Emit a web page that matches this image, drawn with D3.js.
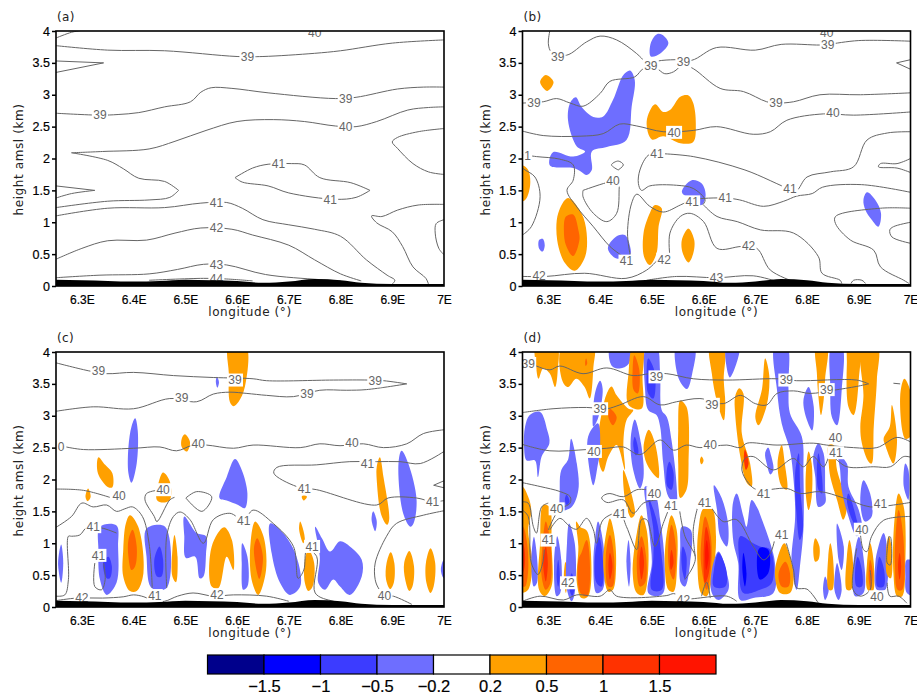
<!DOCTYPE html>
<html>
<head>
<meta charset="utf-8">
<title>Cross sections</title>
<script src="https://d3js.org/d3.v7.min.js"></script>
<style>
  html, body { margin: 0; background: #fff; }
  svg { display: block; }
  .axis text { font-family: "Liberation Sans", sans-serif; fill: #000; stroke: #000; stroke-width: 0.2px; }
  .title { font-family: "DejaVu Sans", sans-serif; font-size: 12px; fill: #222; letter-spacing: 0.6px; }
  .clabel { font-family: "Liberation Sans", sans-serif; font-size: 12px; fill: #666; }
</style>
</head>
<body>
<svg id="chart" width="917" height="694"></svg>
<script>
// axis ticks
const lonTicks = [6.3, 6.4, 6.5, 6.6, 6.7, 6.8, 6.9, 7];
const heightTicks = [0, 0.5, 1, 1.5, 2, 2.5, 3, 3.5, 4];

// shading levels of the vertical wind (colour bar)
const levels = [-1.5, -1, -0.5, -0.2, 0.2, 0.5, 1, 1.5];
const levelLabels = ["\u22121.5", "\u22121", "\u22120.5", "\u22120.2", "0.2", "0.5", "1", "1.5"];
const levelColors = ["#00008c", "#0000ff", "#3c3cff", "#6e6eff", "#ffffff", "#ffa000", "#ff6400", "#ff3200", "#ff1400"];

// ground height along the section [lon, km]
const terrain = [[6.25,.10],[6.3,.09],[6.35,.08],[6.4,.07],[6.45,.08],[6.5,.1],[6.55,.09],[6.6,.08],[6.65,.05],[6.7,.07],[6.75,.11],[6.8,.09],[6.84,.05],[6.9,.03],[7,.03]];

// panel (a): contours [lon, km] and labels [lon, km, text]
const linesA = [
  [[6.25,3.89],[6.28,3.98],[6.30,4.01]],
  [[6.25,3.77],[6.35,3.70],[6.46,3.69],[6.6,3.60],[6.65,3.60],[6.75,3.65],[6.8,3.69],[6.9,3.81],[7,3.86]],
  [[6.25,3.53],[6.342,3.50]], [[6.342,3.50],[6.25,3.35]],
  [[6.25,2.71],[6.335,2.68],[6.37,2.69],[6.41,2.72],[6.46,2.81],[6.51,2.89],[6.53,3.04],[6.55,3.11],[6.59,3.10],[6.66,3.03],[6.79,2.94],[6.83,2.96],[6.91,3.09],[6.96,3.12],[7,3.12]],
  [[7,2.81],[6.97,2.80],[6.93,2.76],[6.87,2.58],[6.83,2.50],[6.79,2.51],[6.73,2.58],[6.67,2.61],[6.6,2.58],[6.54,2.44],[6.48,2.27],[6.43,2.15],[6.34,2.11],[6.28,2.09]],
  [[6.28,2.09],[6.35,1.97],[6.38,1.84],[6.41,1.69],[6.46,1.64],[6.487,1.50]],
  [[6.487,1.50],[6.47,1.39],[6.43,1.35],[6.35,1.33],[6.25,1.23]],
  [[6.25,1.57],[6.325,1.50]], [[6.325,1.50],[6.28,1.45],[6.25,1.38]],
  [[6.25,1.10],[6.35,1.22],[6.46,1.23],[6.53,1.30],[6.58,1.31],[6.61,1.22],[6.65,1.04],[6.70,0.96],[6.75,0.89],[6.80,0.78],[6.85,0.41],[6.89,0.17],[6.905,0.09],[6.90,0.03]],
  [[6.596,1.70],[6.63,1.85],[6.66,1.91],[6.705,1.92],[6.73,1.90],[6.76,1.70],[6.82,1.62],[6.857,1.50]],
  [[6.857,1.50],[6.83,1.39],[6.79,1.36],[6.70,1.46],[6.66,1.57],[6.61,1.63],[6.596,1.70]],
  [[7,2.47],[6.95,2.42],[6.91,2.33],[6.90,2.26],[6.91,2.16],[6.94,1.92],[6.97,1.79],[7,1.75]],
  [[7,1.28],[6.95,1.27],[6.91,1.19],[6.88,1.09],[6.86,1.10],[6.87,0.99],[6.90,0.85],[6.92,0.62],[6.94,0.30],[6.965,0.12],[6.97,0.03]],
  [[7,1.04],[6.985,.98],[6.983,.83],[6.99,.59],[7,.49]],
  [[6.25,.42],[6.30,.59],[6.35,.71],[6.425,.72],[6.48,.83],[6.53,.91],[6.59,.89],[6.63,.80],[6.70,.64],[6.75,.41],[6.80,.19],[6.84,.08]],
  [[6.25,.13],[6.335,.17],[6.43,.19],[6.485,.26],[6.535,.34],[6.58,.33],[6.655,.18],[6.76,.10],[6.80,.08]],
  [[6.43,.09],[6.535,.12],[6.58,.11],[6.63,.08]]
];
const labelsA = [[6.75,3.98,"40"],[6.62,3.59,"39"],[6.335,2.68,"39"],[6.81,2.94,"39"],[6.81,2.50,"40"],[6.68,1.92,"41"],[6.78,1.36,"41"],[6.56,1.30,"41"],[6.56,.91,"42"],[6.56,.34,"43"],[6.56,.12,"44"]];

// panel (b)
const fillsB = [
  [-0.35,[[6.498,3.6],[6.498,3.81],[6.51,3.95],[6.52,3.94],[6.532,3.81],[6.517,3.65]]],
  [0.35,[[6.284,3.2],[6.295,3.31],[6.31,3.2],[6.298,3.06]]],
  [-0.35,[[6.338,2.60],[6.342,2.87],[6.353,2.96],[6.364,2.81],[6.387,2.65],[6.406,2.66],[6.425,2.92],[6.445,3.31],[6.458,3.38],[6.467,3.23],[6.461,2.81],[6.451,2.29],[6.413,2.18],[6.384,2.11],[6.384,1.82],[6.374,1.74],[6.364,1.79],[6.348,1.85],[6.303,1.89],[6.309,2.10],[6.348,2.03],[6.371,2.11],[6.355,2.19]]],
  [0.35,[[6.25,1.89],[6.261,1.82],[6.265,1.61],[6.258,1.38],[6.25,1.33],[6.24,1.6]]],
  [-0.35,[[6.282,.72],[6.289,.74],[6.293,.64],[6.289,.54],[6.282,.59]]],
  [0.35,[[6.338,1.38],[6.364,1.14],[6.374,.83],[6.371,.46],[6.351,.24],[6.332,.36],[6.317,.72],[6.319,1.14]]],
  [0.75,[[6.348,1.12],[6.358,.88],[6.36,.72],[6.348,.47],[6.334,.64],[6.33,.88],[6.334,1.09]]],
  [0.35,[[6.49,2.58],[6.506,2.85],[6.522,2.73],[6.535,2.76],[6.555,2.97],[6.571,2.99],[6.58,2.87],[6.585,2.55],[6.58,2.26],[6.555,2.24],[6.522,2.35],[6.50,2.30]]],
  [-0.35,[[6.558,1.48],[6.577,1.66],[6.596,1.61],[6.604,1.43],[6.596,1.27],[6.567,1.40]]],
  [0.35,[[6.506,1.27],[6.519,1.22],[6.513,.93],[6.509,.51],[6.496,.33],[6.485,.46],[6.484,.83],[6.496,1.14]]],
  [0.35,[[6.571,.90],[6.582,.72],[6.58,.51],[6.571,.37],[6.56,.51],[6.558,.72]]],
  [-0.35,[[6.415,.59],[6.432,.78],[6.448,.80],[6.458,.62],[6.458,.49],[6.432,.43]]],
  [-0.35,[[6.909,1.35],[6.916,1.47],[6.932,1.35],[6.943,1.14],[6.938,.93],[6.925,1.04],[6.913,1.19]]]
];
const linesB = [
  [[6.303,4.01],[6.30,3.8],[6.306,3.67],[6.335,3.62],[6.374,3.83],[6.40,3.92],[6.432,3.86],[6.47,3.65],[6.49,3.49]],
  [[6.50,3.5],[6.512,3.53],[6.545,3.55],[6.577,3.54],[6.625,3.74],[6.70,3.70],[6.75,3.79],[6.825,3.78],[6.84,3.79],[6.90,3.85],[7,3.84]],
  [[6.25,2.87],[6.29,2.89],[6.316,2.94],[6.342,2.87],[6.367,2.82],[6.40,3.02],[6.419,3.21],[6.467,3.28],[6.484,3.41],[6.509,3.41],[6.525,3.33],[6.542,3.36],[6.561,3.47],[6.58,3.41],[6.632,3.10],[6.677,3.05],[6.722,2.89],[6.742,2.87],[6.774,2.89],[6.825,3.0],[6.903,3.0],[7,3.03]],
  [[7,3.55],[6.973,3.50]], [[6.973,3.50],[7,3.40]],
  [[6.25,2.43],[6.29,2.36],[6.361,2.35],[6.406,2.39],[6.438,2.54],[6.471,2.51],[6.522,2.42],[6.58,2.44],[6.625,2.50],[6.696,2.38],[6.729,2.42],[6.761,2.60],[6.832,2.70],[6.89,2.68],[7,2.73]],
  [[6.25,2.06],[6.277,2.03],[6.322,1.99],[6.348,1.90],[6.348,1.66],[6.336,1.50],[6.355,1.24],[6.387,.93],[6.419,.62],[6.445,.46]],
  [[6.25,.80],[6.267,.93],[6.284,1.40],[6.274,1.71],[6.255,1.82],[6.25,1.85]],
  [[6.51,2.08],[6.493,2.05],[6.477,1.82],[6.474,1.61],[6.48,1.50],[6.496,1.57],[6.548,1.58],[6.58,1.53],[6.603,1.35],[6.598,1.27]],
  [[6.51,2.08],[6.58,2.03],[6.68,1.82],[6.767,1.52],[6.78,1.50],[6.80,1.71],[6.845,1.79],[6.89,1.87],[6.916,2.29],[6.955,2.40],[7,2.42]],
  [[6.458,.49],[6.453,.83],[6.461,1.30],[6.471,1.44],[6.496,1.25],[6.522,1.16],[6.555,1.27],[6.578,1.35],[6.642,1.38],[6.67,1.35],[6.716,1.25],[6.755,1.33],[6.78,1.41],[6.81,1.45],[6.83,1.55],[6.905,1.59],[7,1.47]],
  [[6.535,.46],[6.535,.83],[6.555,1.09],[6.574,1.14],[6.60,1.01],[6.626,.59],[6.674,.62],[6.703,.59],[6.729,.25],[6.774,.07]],
  [[6.25,.15],[6.295,.15],[6.37,.20],[6.45,.12],[6.49,.25],[6.51,.40]],
  [[7,1.22],[6.942,1.22],[6.855,1.09],[6.855,.98],[6.884,.72],[6.929,.56],[6.942,.30],[6.987,.09],[6.997,.04]],
  [[6.60,1.27],[6.626,1.09],[6.665,1.01],[6.71,.88],[6.774,.83],[6.822,.46],[6.829,.20],[6.864,.09],[6.867,.04]],
  [[7,2.0],[6.974,1.92],[6.942,1.92],[6.938,1.87],[6.974,1.85],[7,1.78]],
  [[7,1.0],[6.967,.93],[6.96,.88],[6.964,.77],[7,.67]],
  [[6.885,.04],[6.89,.09],[6.906,.09],[6.913,.04]],
  [[6.367,1.50],[6.412,1.62],[6.438,1.66],[6.437,1.55],[6.432,1.14],[6.413,1.01],[6.387,1.14],[6.367,1.40],[6.367,1.50]],
  [[6.435,1.82],[6.422,1.90],[6.435,1.96],[6.445,1.90],[6.435,1.82]],
  [[6.49,.09],[6.548,.15],[6.625,.13],[6.696,.16],[6.742,.07]]
];
const labelsB = [[6.318,3.59,"39"],[6.498,3.46,"39"],[6.561,3.52,"39"],[6.84,3.79,"39"],[6.272,2.87,"39"],[6.74,2.87,"39"],[6.85,2.72,"40"],[6.543,2.41,"40"],[6.26,2.05,"1"],[6.51,2.08,"41"],[6.767,1.52,"41"],[6.642,1.38,"41"],[6.578,1.32,"41"],[6.425,1.66,"40"],[6.451,.39,"41"],[6.524,.42,"42"],[6.687,.63,"42"],[6.282,.16,"42"],[6.625,.13,"43"],[6.838,3.98,"40"]];

// panel (c)
const fillsC = [
  [0.35,[[6.584,4.1],[6.617,4.1],[6.615,3.45],[6.603,3.22],[6.593,3.15],[6.586,3.22],[6.584,3.67]]],
  [-0.35,[[6.561,3.61],[6.565,3.53],[6.562,3.44],[6.559,3.53]]],
  [-0.35,[[6.403,2.96],[6.408,2.77],[6.406,2.25],[6.396,1.95],[6.39,2.10],[6.39,2.51],[6.396,2.83]]],
  [0.35,[[6.499,2.71],[6.509,2.59],[6.503,2.44],[6.493,2.51],[6.493,2.64]]],
  [0.35,[[6.332,2.35],[6.345,2.23],[6.359,2.10],[6.359,1.88],[6.351,1.88],[6.331,2.10]]],
  [0.35,[[6.312,1.86],[6.317,1.73],[6.311,1.66],[6.307,1.73]]],
  [0.35,[[6.457,2.11],[6.47,1.97],[6.47,1.68],[6.457,1.64],[6.445,1.68],[6.448,1.94]]],
  [-0.35,[[6.596,2.32],[6.609,2.15],[6.62,1.78],[6.615,1.55],[6.602,1.60],[6.58,1.67],[6.566,1.71],[6.58,2.04]]],
  [0.35,[[6.729,1.76],[6.735,1.73],[6.729,1.67],[6.725,1.73]]],
  [0.35,[[6.876,2.35],[6.883,2.04],[6.894,1.37],[6.89,1.29],[6.879,1.44],[6.87,1.99],[6.87,2.20]]],
  [-0.35,[[6.918,2.45],[6.931,2.25],[6.947,1.68],[6.941,1.31],[6.935,1.26],[6.921,1.47],[6.912,2.25]]],
  [-0.35,[[6.863,1.50],[6.87,1.34],[6.867,1.19],[6.86,1.37]]],
  [-0.35,[[6.26,.98],[6.264,.69],[6.26,.38],[6.254,.69]]],
  [-0.35,[[6.335,1.26],[6.367,1.28],[6.37,.95],[6.367,.38],[6.348,.19],[6.335,.43],[6.332,.90]]],
  [-0.75,[[6.351,.79],[6.358,.64],[6.354,.45],[6.348,.45],[6.341,.69]]],
  [0.35,[[6.393,1.44],[6.409,1.26],[6.419,.53],[6.406,.25],[6.393,.25],[6.38,.48],[6.38,.90],[6.385,1.31]]],
  [0.75,[[6.398,1.21],[6.406,.95],[6.403,.64],[6.396,.58],[6.39,.79],[6.39,1.05]]],
  [-0.35,[[6.425,1.23],[6.461,1.26],[6.464,.30],[6.435,.30],[6.425,.79]]],
  [-0.75,[[6.45,.95],[6.457,.74],[6.454,.48],[6.445,.48],[6.44,.74]]],
  [0.35,[[6.479,1.13],[6.485,.79],[6.482,.39],[6.475,.48],[6.475,.90]]],
  [-0.35,[[6.498,1.42],[6.522,1.16],[6.54,1.11],[6.54,.84],[6.535,.48],[6.528,.45],[6.519,.79],[6.501,.77],[6.498,1.11]]],
  [0.35,[[6.575,1.25],[6.59,1.05],[6.593,.58],[6.58,.79],[6.564,.30],[6.551,.32],[6.551,.95]]],
  [-0.35,[[6.61,1.0],[6.62,.79],[6.62,.32],[6.612,.27],[6.609,.69]]],
  [0.35,[[6.635,1.34],[6.651,1.11],[6.656,.58],[6.641,.19],[6.628,.43],[6.626,1.0]]],
  [0.75,[[6.639,1.08],[6.65,.79],[6.643,.44],[6.635,.69],[6.633,.95]]],
  [-0.35,[[6.664,1.31],[6.689,1.16],[6.715,.79],[6.722,.32],[6.702,.19],[6.683,.38],[6.667,.84]]],
  [0.35,[[6.722,1.34],[6.731,1.08],[6.728,1.0],[6.72,1.21]]],
  [0.35,[[6.738,.90],[6.749,.69],[6.746,.32],[6.738,.25],[6.731,.38],[6.731,.74]]],
  [-0.35,[[6.751,1.26],[6.764,1.08],[6.78,.87],[6.799,1.03],[6.818,.95],[6.841,.74],[6.841,.48],[6.818,.19],[6.799,.32],[6.786,.43],[6.77,.27],[6.757,.38],[6.76,.79]]],
  [0.35,[[6.897,.86],[6.904,.69],[6.903,.38],[6.896,.28],[6.888,.43],[6.889,.69]]],
  [0.35,[[6.933,.88],[6.942,.64],[6.939,.32],[6.933,.25],[6.925,.43],[6.923,.69]]],
  [0.35,[[6.974,.92],[6.983,.69],[6.98,.32],[6.974,.22],[6.966,.38],[6.965,.69]]],
  [-0.35,[[7,.74],[6.994,.58],[7,.45],[7.01,.6]]]
];
const linesC = [
  [[6.25,3.83],[6.316,3.70],[6.348,3.66],[6.40,3.68],[6.477,3.63],[6.554,3.60],[6.631,3.58],[6.657,3.55],[6.786,3.56],[6.854,3.56],[6.883,3.55],[6.928,3.50]],
  [[6.928,3.50],[6.85,3.41],[6.812,3.40],[6.76,3.40],[6.709,3.30],[6.657,3.32],[6.619,3.35],[6.586,3.37],[6.554,3.34],[6.522,3.22],[6.47,3.27],[6.40,3.11],[6.322,3.14],[6.25,3.07]],
  [[6.27,2.51],[6.303,2.47],[6.40,2.49],[6.451,2.51],[6.483,2.45],[6.515,2.54],[6.541,2.54],[6.593,2.49],[6.631,2.54],[6.722,2.50],[6.76,2.56],[6.799,2.53],[6.844,2.56],[6.883,2.50],[6.928,2.56],[6.96,2.72],[7,2.78]],
  [[7,2.44],[6.954,2.25],[6.915,2.28],[6.87,2.28],[6.818,2.28],[6.754,2.23],[6.677,2.19],[6.671,2.10],[6.715,1.89],[6.754,1.84],[6.87,1.60],[6.892,1.71],[6.947,1.71],[6.978,1.65],[7,1.67]],
  [[7,1.98],[6.98,1.91]], [[6.98,1.91],[7,1.87]],
  [[6.25,1.85],[6.303,1.83],[6.354,1.72]],
  [[6.25,1.25],[6.28,1.42],[6.3,1.63],[6.322,1.57],[6.348,1.60],[6.367,1.50],[6.383,1.54],[6.398,1.57],[6.417,1.42],[6.43,.99],[6.436,.30]],
  [[6.464,.30],[6.464,1.11],[6.477,1.42],[6.49,1.49],[6.509,1.37],[6.535,1.0],[6.554,1.37],[6.586,1.47],[6.613,1.36],[6.631,1.52],[6.67,1.31],[6.709,.95],[6.718,.45],[6.729,.58],[6.735,.9],[6.754,.79],[6.751,.22],[6.786,.09],[6.81,.06]],
  [[6.325,.69],[6.325,.32],[6.338,.27],[6.345,.43],[6.342,.69]],
  [[6.25,.17],[6.267,.19],[6.274,.43],[6.274,1.11],[6.28,1.11],[6.296,1.13],[6.31,1.25],[6.338,1.24],[6.367,1.16]],
  [[6.25,.10],[6.29,.14],[6.34,.14],[6.38,.16],[6.40,.19],[6.42,.16],[6.44,.09],[6.46,.09],[6.485,.17],[6.515,.22],[6.554,.17],[6.593,.19],[6.657,.17],[6.70,.09]],
  [[7,1.51],[6.96,1.44],[6.908,1.31],[6.889,1.11],[6.867,.69],[6.867,.43],[6.873,.30],[6.885,.18],[6.902,.17],[6.938,.04]],
  [[6.445,1.83],[6.425,1.78],[6.422,1.68],[6.44,1.42],[6.445,1.34],[6.47,1.68],[6.479,1.72]],
  [[6.501,1.71],[6.522,1.81],[6.551,1.73],[6.532,1.50],[6.501,1.71]]
];
const labelsC = [[6.332,3.70,"39"],[6.596,3.56,"39"],[6.867,3.55,"39"],[6.493,3.29,"39"],[6.735,3.35,"39"],[6.26,2.52,"0"],[6.525,2.56,"40"],[6.822,2.57,"40"],[6.372,1.75,"40"],[6.457,1.84,"40"],[6.885,.18,"40"],[6.852,2.25,"41"],[6.73,1.85,"41"],[6.978,1.65,"41"],[6.613,1.36,"41"],[6.322,1.26,"41"],[6.332,.81,"41"],[6.745,.95,"41"],[6.441,.18,"41"],[6.30,.15,"42"],[6.561,.19,"42"]];

// panel (d)
const fillsD = [
  [0.35,[[6.276,4.1],[6.316,4.1],[6.318,3.71],[6.313,3.45],[6.303,3.66],[6.29,3.74],[6.281,3.58],[6.276,3.80]]],
  [0.35,[[6.327,4.1],[6.387,4.1],[6.387,3.76],[6.38,3.27],[6.37,3.45],[6.354,3.58],[6.338,3.45],[6.327,3.55]]],
  [0.75,[[6.373,3.9],[6.375,3.82],[6.372,3.78],[6.371,3.84]]],
  [-0.35,[[6.42,4.1],[6.458,4.1],[6.455,3.81],[6.438,3.74],[6.422,3.79]]],
  [0.35,[[6.464,4.1],[6.482,4.1],[6.482,3.6],[6.48,3.11],[6.455,3.17],[6.455,3.67]]],
  [0.35,[[6.422,3.46],[6.432,3.32],[6.455,3.11],[6.464,3.09],[6.451,2.93],[6.445,2.57],[6.448,2.15],[6.432,2.54],[6.416,2.36],[6.406,2.12],[6.40,2.20],[6.396,2.62],[6.403,3.04],[6.413,3.35]]],
  [0.75,[[6.419,3.11],[6.432,2.98],[6.425,2.85],[6.416,2.98]]],
  [0.75,[[6.466,3.95],[6.476,3.71],[6.473,3.35],[6.465,3.4],[6.463,3.74]]],
  [-0.35,[[6.40,3.55],[6.405,3.42],[6.396,2.96],[6.387,2.83],[6.39,3.35]]],
  [-0.35,[[6.396,2.88],[6.379,2.72],[6.375,2.51],[6.387,1.91],[6.396,2.25],[6.40,2.46]]],
  [-0.35,[[6.284,3.06],[6.298,2.77],[6.302,2.57],[6.287,2.36],[6.28,2.04],[6.274,2.30],[6.258,2.30],[6.253,2.51],[6.255,2.83],[6.264,3.01]]],
  [-0.35,[[6.344,2.64],[6.355,2.25],[6.358,1.84],[6.345,1.57],[6.325,1.52],[6.322,1.84],[6.325,2.15],[6.338,2.31]]],
  [-0.75,[[6.335,1.76],[6.341,1.65],[6.336,1.60],[6.332,1.68]]],
  [-0.35,[[6.467,2.94],[6.479,2.57],[6.484,2.04],[6.477,1.86],[6.464,2.15],[6.459,2.62]]],
  [-0.75,[[6.467,2.67],[6.474,2.41],[6.469,2.38],[6.464,2.56]]],
  [0.35,[[6.494,2.78],[6.507,2.54],[6.513,2.02],[6.507,2.05],[6.49,2.25],[6.484,2.51]]],
  [-0.35,[[6.49,4.1],[6.509,4.1],[6.516,3.67],[6.519,3.09],[6.529,2.98],[6.538,2.62],[6.548,1.89],[6.547,1.63],[6.532,1.73],[6.522,2.25],[6.516,2.83],[6.509,3.01],[6.493,3.09],[6.487,3.40]]],
  [-0.75,[[6.493,3.9],[6.506,3.67],[6.503,3.27],[6.493,3.35],[6.49,3.71]]],
  [-0.75,[[6.534,2.28],[6.542,2.1],[6.538,1.84],[6.53,1.89],[6.529,2.15]]],
  [-0.35,[[6.548,4.1],[6.582,4.1],[6.578,3.66],[6.568,3.42],[6.559,3.48],[6.549,3.66]]],
  [0.35,[[6.555,3.24],[6.567,3.14],[6.571,2.25],[6.567,1.84],[6.555,1.71],[6.551,2.25],[6.551,2.77]]],
  [0.35,[[6.613,4.1],[6.639,4.1],[6.639,3.56],[6.642,3.19],[6.639,2.93],[6.626,3.22],[6.616,3.66]]],
  [-0.35,[[6.645,4.1],[6.669,4.1],[6.651,3.6],[6.645,3.74]]],
  [0.35,[[6.669,3.43],[6.677,3.35],[6.674,2.72],[6.69,2.25],[6.693,1.89],[6.684,1.94],[6.671,2.36],[6.661,3.04],[6.661,3.30]]],
  [1.25,[[6.68,2.47],[6.687,2.25],[6.682,2.15],[6.678,2.33]]],
  [0.35,[[6.719,3.9],[6.727,3.63],[6.722,3.16],[6.706,2.85],[6.70,2.98],[6.713,3.42]]],
  [-0.35,[[6.738,4.1],[6.761,4.1],[6.764,3.45],[6.767,3.04],[6.79,2.67],[6.793,2.1],[6.793,1.21],[6.787,.69],[6.78,.27],[6.77,.69],[6.777,1.42],[6.774,1.99],[6.767,2.46],[6.751,2.88],[6.742,3.40]]],
  [-0.75,[[6.784,2.41],[6.787,1.84],[6.792,1.21],[6.786,1.05],[6.779,1.52],[6.777,2.1]]],
  [-0.35,[[6.803,3.45],[6.813,3.14],[6.81,2.77],[6.80,2.93],[6.793,3.24]]],
  [0.35,[[6.818,4.1],[6.838,4.1],[6.835,3.58],[6.832,3.24],[6.827,3.01],[6.822,3.30],[6.819,3.67]]],
  [-0.35,[[6.848,4.1],[6.867,4.1],[6.867,3.40],[6.858,2.85],[6.848,2.98],[6.845,3.45]]],
  [0.35,[[6.88,4.1],[6.90,4.1],[6.90,3.56],[6.89,3.01],[6.88,3.14],[6.877,3.82]]],
  [0.35,[[6.906,4.1],[6.936,4.1],[6.935,3.56],[6.929,2.83],[6.925,2.25],[6.919,2.28],[6.906,2.57],[6.903,2.83],[6.909,3.30]]],
  [0.35,[[6.964,3.17],[6.974,2.62],[6.967,2.25],[6.951,2.54],[6.948,2.64],[6.96,2.83]]],
  [0.35,[[6.988,3.58],[6.996,3.48],[7.01,2.9],[7,2.67],[6.99,2.64],[6.98,3.30]]],
  [0.35,[[6.842,2.54],[6.851,2.54],[6.858,2.15],[6.877,1.58],[6.87,1.37],[6.858,1.68],[6.845,2.04],[6.842,2.25]]],
  [0.35,[[6.751,2.54],[6.757,2.25],[6.761,1.84],[6.751,1.89],[6.743,2.25]]],
  [-0.35,[[6.725,2.5],[6.731,2.36],[6.735,2.15],[6.729,2.08],[6.722,2.25],[6.719,2.41]]],
  [0.35,[[6.803,2.44],[6.809,2.25],[6.809,1.73],[6.803,1.52],[6.798,1.73],[6.798,2.15]]],
  [-0.35,[[6.822,2.57],[6.832,2.41],[6.835,1.84],[6.835,1.63],[6.822,1.57],[6.816,2.04],[6.812,2.36]]],
  [-0.75,[[6.822,2.41],[6.829,2.04],[6.829,1.78],[6.822,1.84],[6.819,2.15]]],
  [-0.35,[[6.861,2.38],[6.877,2.25],[6.88,1.89],[6.90,1.52],[6.906,1.21],[6.896,1.11],[6.88,1.42],[6.867,1.84],[6.864,2.15]]],
  [-0.75,[[6.88,1.78],[6.896,1.37],[6.90,1.21],[6.887,1.37],[6.877,1.68]]],
  [-0.35,[[6.909,1.99],[6.922,1.78],[6.925,1.42],[6.912,1.34],[6.903,1.63]]],
  [-0.35,[[6.99,2.25],[6.996,2.15],[6.996,1.68],[6.987,1.89]]],
  [0.35,[[6.596,2.36],[6.6,2.3],[6.596,2.24],[6.593,2.3]]],
  [0.35,[[6.445,2.15],[6.451,2.04],[6.467,1.45],[6.46,1.40],[6.448,1.70]]],
  // lower layer
  [0.35,[[6.24,1.89],[6.25,1.89],[6.261,1.73],[6.267,1.52],[6.261,1.21],[6.269,.69],[6.261,.27],[6.25,.22],[6.24,.22]]],
  [0.75,[[6.24,1.27],[6.25,1.27],[6.258,1.05],[6.261,.58],[6.255,.32],[6.25,.32],[6.24,.32]]],
  [1.25,[[6.24,1.0],[6.25,1.0],[6.255,.79],[6.25,.53],[6.24,.53]]],
  [-0.35,[[6.272,1.10],[6.278,.79],[6.278,.38],[6.272,.32],[6.267,.69]]],
  [0.35,[[6.29,1.6],[6.302,1.57],[6.306,1],[6.306,.32],[6.293,.17],[6.282,.27],[6.284,1]]],
  [0.75,[[6.295,1.34],[6.304,1],[6.304,.38],[6.295,.27],[6.287,.48],[6.289,1]]],
  [1.25,[[6.295,.95],[6.299,.69],[6.295,.40],[6.29,.69]]],
  [-0.35,[[6.317,1.11],[6.325,.74],[6.323,.22],[6.316,.17],[6.311,.69]]],
  [-0.75,[[6.319,.74],[6.322,.48],[6.319,.32],[6.316,.48]]],
  [0.35,[[6.333,.71],[6.337,.48],[6.334,.22],[6.33,.48]]],
  [-0.35,[[6.34,1.31],[6.351,1],[6.351,.22],[6.345,.09],[6.336,.27],[6.336,1]]],
  [-0.75,[[6.345,.53],[6.351,.32],[6.346,.17],[6.34,.32]]],
  [0.35,[[6.354,1.34],[6.362,1.25],[6.374,1.2],[6.382,.88],[6.377,.17],[6.364,.14],[6.355,.38],[6.358,.95]]],
  [0.75,[[6.374,1.05],[6.38,.74],[6.375,.17],[6.362,.22],[6.358,.74],[6.364,.85]]],
  [-0.35,[[6.396,1.34],[6.406,1],[6.405,.27],[6.393,.22],[6.387,.69],[6.39,1.05]]],
  [-0.75,[[6.398,1.1],[6.405,.79],[6.403,.32],[6.393,.38],[6.39,.79]]],
  [0.35,[[6.419,1.39],[6.427,1.16],[6.431,.69],[6.425,.27],[6.416,.24],[6.406,.69],[6.413,1.21]]],
  [0.75,[[6.419,1.13],[6.427,.79],[6.424,.32],[6.416,.32],[6.411,.79]]],
  [1.25,[[6.419,.85],[6.424,.64],[6.419,.43],[6.416,.64]]],
  [-0.35,[[6.455,1.05],[6.459,.69],[6.456,.32],[6.451,.69]]],
  [0.35,[[6.48,1.44],[6.49,1.21],[6.493,.58],[6.484,.19],[6.471,.22],[6.463,.53],[6.471,1.16]]],
  [0.75,[[6.48,1.11],[6.489,.79],[6.487,.38],[6.477,.32],[6.471,.74]]],
  [1.25,[[6.48,.95],[6.485,.69],[6.48,.43],[6.476,.69]]],
  [-0.35,[[6.487,1.89],[6.506,1.78],[6.516,1.37],[6.522,1],[6.525,.58],[6.522,.22],[6.509,.17],[6.493,.22],[6.50,.69],[6.496,1.11],[6.49,1.52]]],
  [-0.75,[[6.493,1.73],[6.509,1.37],[6.516,1],[6.519,.27],[6.5,.27],[6.503,.79],[6.503,1.21]]],
  [0.35,[[6.538,1.44],[6.548,1.21],[6.549,.69],[6.542,.24],[6.532,.27],[6.525,.69],[6.53,1.21]]],
  [0.75,[[6.538,1.29],[6.547,.9],[6.542,.43],[6.534,.58],[6.532,1]]],
  [1.25,[[6.538,.9],[6.542,.69],[6.537,.58],[6.535,.74]]],
  [-0.35,[[6.558,1.26],[6.575,1.21],[6.574,.69],[6.564,.32],[6.556,.38],[6.555,.95]]],
  [-0.75,[[6.56,.95],[6.567,.79],[6.564,.43],[6.56,.53],[6.557,.79]]],
  [0.35,[[6.60,1.55],[6.616,1.55],[6.624,1.11],[6.619,.58],[6.606,.17],[6.595,.22],[6.588,.69],[6.59,1.21]]],
  [0.75,[[6.603,1.42],[6.614,1.11],[6.614,.58],[6.606,.27],[6.595,.69],[6.597,1.16]]],
  [1.25,[[6.605,1.26],[6.613,.95],[6.61,.53],[6.603,.38],[6.6,.79]]],
  [1.75,[[6.606,1.05],[6.61,.79],[6.605,.58],[6.603,.85]]],
  [-0.35,[[6.62,1.91],[6.635,1.71],[6.648,1.26],[6.645,.95],[6.632,1.11],[6.626,1.52]]],
  [-0.35,[[6.629,.87],[6.645,.53],[6.648,.27],[6.629,.11],[6.616,.22],[6.616,.58]]],
  [-0.75,[[6.629,.85],[6.644,.58],[6.642,.32],[6.62,.32],[6.62,.58]]],
  [-0.35,[[6.664,1.78],[6.677,1.42],[6.683,1.26],[6.693,1.68],[6.703,1.57],[6.713,1.37],[6.729,1],[6.738,.69],[6.735,.22],[6.696,.14],[6.671,.11],[6.667,.69],[6.658,1],[6.655,1.42],[6.658,1.68]]],
  [-0.75,[[6.671,1.11],[6.696,1],[6.709,.95],[6.729,.9],[6.732,.38],[6.709,.27],[6.677,.22],[6.669,.69]]],
  [-1.25,[[6.677,.85],[6.683,.53],[6.68,.32],[6.675,.58]]],
  [-1.25,[[6.709,.93],[6.725,.9],[6.725,.53],[6.709,.43],[6.703,.69]]],
  [0.35,[[6.756,1],[6.767,.79],[6.774,.43],[6.767,.22],[6.748,.22],[6.738,.48],[6.742,.74]]],
  [0.75,[[6.758,.71],[6.767,.53],[6.764,.32],[6.751,.32],[6.745,.53]]],
  [0.35,[[6.816,1.08],[6.824,.95],[6.822,.74],[6.816,.71],[6.812,.9]]],
  [-0.35,[[6.835,.48],[6.842,.27],[6.835,.11],[6.831,.27]]],
  [-0.35,[[6.858,1.31],[6.871,.95],[6.867,.58],[6.861,.74]]],
  [-0.35,[[6.858,.69],[6.867,.27],[6.861,.11],[6.853,.27]]],
  [0.35,[[6.845,1],[6.85,.79],[6.849,.27],[6.842,.27],[6.841,.79]]],
  [0.35,[[6.882,1.05],[6.889,.69],[6.885,.27],[6.877,.27],[6.877,.79]]],
  [-0.35,[[6.90,1.1],[6.909,.79],[6.909,.22],[6.893,.17],[6.89,.69]]],
  [-0.75,[[6.898,.79],[6.906,.58],[6.906,.32],[6.896,.32],[6.893,.58]]],
  [0.35,[[6.922,1],[6.929,.69],[6.927,.24],[6.917,.27],[6.916,.69]]],
  [0.75,[[6.922,.74],[6.927,.53],[6.923,.27],[6.919,.48]]],
  [-0.35,[[6.948,1.16],[6.955,.9],[6.951,.27],[6.935,.27],[6.932,.69],[6.938,.95]]],
  [-0.75,[[6.94,.79],[6.949,.58],[6.948,.32],[6.936,.32]]],
  [0.35,[[6.958,1.11],[6.964,.9],[6.962,.45],[6.955,.5],[6.953,.9]]],
  [0.35,[[6.977,1.78],[6.987,1.57],[6.99,.69],[6.984,.17],[6.974,.17],[6.967,.53],[6.969,1.37]]],
  [0.75,[[6.977,1.52],[6.986,1.11],[6.984,.27],[6.975,.27],[6.97,.69],[6.972,1.21]]],
  [1.25,[[6.979,.85],[6.982,.64],[6.979,.43],[6.976,.64]]],
  [-0.35,[[6.993,.74],[7.01,.69],[7.01,.17],[6.993,.22],[6.99,.48]]]
];
const linesD = [
  [[6.25,3.87],[6.267,3.82],[6.277,3.78],[6.303,3.72],[6.322,3.78],[6.367,3.66],[6.413,3.75],[6.464,3.63],[6.496,3.66],[6.529,3.66],[6.58,3.58],[6.645,3.56],[6.742,3.58],[6.78,3.55],[6.896,3.56],[6.919,3.50]],
  [[6.919,3.50],[6.896,3.46],[6.851,3.40],[6.806,3.35],[6.774,3.39],[6.742,3.35],[6.722,3.17],[6.70,3.19],[6.671,3.32],[6.638,3.19],[6.593,3.27],[6.548,3.22],[6.516,3.17],[6.484,3.30],[6.438,3.17],[6.413,3.11],[6.374,3.13],[6.309,3.11],[6.25,3.05]],
  [[6.967,3.51],[6.98,3.5]],
  [[6.25,2.55],[6.303,2.45],[6.374,2.47],[6.413,2.49],[6.445,2.51],[6.477,2.39],[6.516,2.62],[6.542,2.46],[6.567,2.54],[6.593,2.50],[6.645,2.54],[6.671,2.50],[6.684,2.57],[6.742,2.54],[6.812,2.57],[6.838,2.54],[6.89,2.50],[6.935,2.50],[6.974,2.66],[7,2.59]],
  [[7,2.35],[6.987,2.36],[6.961,2.20],[6.929,2.20],[6.877,2.20],[6.845,2.36],[6.832,2.20],[6.812,2.36],[6.793,2.20],[6.774,2.33],[6.735,2.15],[6.696,2.36],[6.68,2.33],[6.674,2.15],[6.687,1.94],[6.703,1.84],[6.761,1.86],[6.787,1.78],[6.825,1.81],[6.871,1.71],[6.922,1.57],[6.967,1.60],[7,1.64]],
  [[6.25,1.95],[6.284,1.89],[6.323,1.81],[6.342,1.73],[6.342,1.63],[6.32,1.52],[6.30,1.21]],
  [[6.25,1.65],[6.261,1.63],[6.271,1.26],[6.277,1.16],[6.287,1.57],[6.30,1.63]],
  [[6.25,1.52],[6.261,1.42],[6.267,.69],[6.28,.51],[6.289,.69],[6.292,.9]],
  [[6.303,1.21],[6.322,1.39],[6.342,1.26],[6.355,1.22],[6.374,1.39],[6.387,1.21],[6.393,1],[6.406,1.37],[6.438,1.47],[6.451,1.26],[6.471,.90],[6.48,1.37],[6.49,1.37],[6.506,.95],[6.522,1.31],[6.532,1.52]],
  [[6.554,1.5],[6.564,1.11],[6.584,.79],[6.58,.64],[6.564,.43]],
  [[6.588,1.55],[6.58,1.21],[6.584,.79]],
  [[6.616,1.55],[6.638,1.34],[6.664,1.37],[6.696,.95],[6.716,.74],[6.729,.84],[6.739,1.11]],
  [[6.76,1],[6.774,.58],[6.78,.30],[6.8,.28],[6.822,.06]],
  [[7,1.42],[6.948,1.36],[6.925,1.11],[6.916,.87],[6.909,.9],[6.903,1.16]],
  [[6.896,.92],[6.889,.27],[6.903,.17],[6.922,.27],[6.922,.58]],
  [[6.958,1.1],[6.955,.69],[6.961,.66],[6.961,1.1],[6.958,1.1]],
  [[6.25,.09],[6.284,.17],[6.329,.11],[6.355,.19],[6.40,.17],[6.419,.27],[6.432,.17],[6.529,.18],[6.542,.21],[6.555,.17],[6.561,.13],[6.645,.17],[6.664,.09]],
  [[6.596,.17],[6.606,.39],[6.613,.14]],
  [[6.955,.38],[6.96,.17],[6.977,.17],[6.993,.06]],
  [[6.49,1.84],[6.471,1.84],[6.445,1.73],[6.419,1.78],[6.409,1.76],[6.403,1.71],[6.413,1.64],[6.445,1.68],[6.464,1.47],[6.484,1.63],[6.509,1.68]]
];
const labelsD = [[6.261,3.82,"39"],[6.509,3.61,"39"],[6.76,3.56,"39"],[6.838,3.41,"39"],[6.616,3.18,"39"],[6.40,3.11,"39"],[6.388,2.44,"40"],[6.613,2.55,"40"],[6.855,2.66,"40"],[6.505,1.78,"40"],[6.316,1.54,"40"],[6.906,1.22,"40"],[6.935,.16,"40"],[6.856,2.42,"41"],[6.716,1.78,"41"],[6.942,1.62,"41"],[6.537,1.59,"41"],[6.602,1.64,"41"],[6.438,1.47,"41"],[6.30,1.05,"41"],[6.751,1.13,"41"],[6.338,.38,"42"],[6.561,.12,"42"]];

const svg = d3.select("svg#chart");
const panelWidth = 388, panelHeight = 255;
const color = d3.scaleThreshold().domain(levels).range(levelColors);

// one contour panel
function drawPanel(id, left, top, name, fills, lines, labels) {
  const x = d3.scaleLinear().domain([6.25, 7]).range([0, panelWidth]);
  const y = d3.scaleLinear().domain([0, 4]).range([panelHeight, 0]);

  const closed = d3.line().x(d => x(d[0])).y(d => y(d[1])).curve(d3.curveCatmullRomClosed.alpha(0.5));
  const open = d3.line().x(d => x(d[0])).y(d => y(d[1])).curve(d3.curveCatmullRom.alpha(0.5));
  const ground = d3.area().x(d => x(d[0])).y0(panelHeight).y1(d => y(d[1])).curve(d3.curveMonotoneX);

  const g = svg.append("g").attr("transform", `translate(${left},${top})`);
  g.append("clipPath").attr("id", "clip" + id).append("rect")
    .attr("width", panelWidth).attr("height", panelHeight);

  const inner = g.append("g").attr("clip-path", `url(#clip${id})`);
  inner.selectAll("path.fill").data(fills).join("path")
    .attr("class", "fill")
    .attr("fill", d => color(d[0]))
    .attr("d", d => closed(d[1]));
  inner.selectAll("path.contour").data(lines).join("path")
    .attr("class", "contour")
    .attr("fill", "none").attr("stroke", "#666").attr("stroke-width", 1)
    .attr("d", open);

  // labels blank out what is under them
  const lab = inner.selectAll("g.lab").data(labels).join("g")
    .attr("class", "lab")
    .attr("transform", d => `translate(${x(d[0])},${y(d[1])})`);
  lab.append("rect")
    .attr("x", d => -(d[2].length * 7 + 2) / 2).attr("y", -6.5)
    .attr("width", d => d[2].length * 7 + 2).attr("height", 13)
    .attr("fill", "#fff");
  lab.append("text").attr("class", "clabel").attr("text-anchor", "middle").attr("dy", "0.36em").text(d => d[2]);

  inner.append("path").datum(terrain).attr("fill", "#000").attr("d", ground);

  const bottom = g.append("g").attr("class", "axis")
    .attr("transform", `translate(0,${panelHeight})`)
    .call(d3.axisBottom(x).tickValues(lonTicks).tickSize(0).tickPadding(9).tickFormat(d => d + "E"));
  bottom.selectAll("text").style("font-size", "12px");
  const leftAxis = g.append("g").attr("class", "axis")
    .call(d3.axisLeft(y).tickValues(heightTicks).tickSize(4).tickPadding(2).tickFormat(d => d));
  leftAxis.selectAll("text").style("font-size", "12.5px");
  leftAxis.selectAll(".tick line").attr("stroke-width", 1.5);
  g.selectAll(".axis .domain").remove();

  g.append("rect").attr("width", panelWidth).attr("height", panelHeight)
    .attr("fill", "none").attr("stroke", "#000").attr("stroke-width", 1.6);

  g.append("text").attr("class", "title").attr("x", 1).attr("y", -10).style("letter-spacing", "0.3px").text(name);
  g.append("text").attr("class", "title").attr("text-anchor", "middle")
    .attr("x", panelWidth / 2).attr("y", panelHeight + 30).text("longitude (\u00b0)");
  g.append("text").attr("class", "title").attr("text-anchor", "middle")
    .attr("transform", `translate(-33,${panelHeight / 2 + 1}) rotate(-90)`).text("height amsl (km)");
}

drawPanel("a", 56, 31, "(a)", [], linesA, labelsA);
drawPanel("b", 522.5, 31, "(b)", fillsB, linesB, labelsB);
drawPanel("c", 56, 352, "(c)", fillsC, linesC, labelsC);
drawPanel("d", 522.5, 352, "(d)", fillsD, linesD, labelsD);

// colour bar
const barScale = d3.scaleLinear().domain([0, levelColors.length]).range([207.5, 716]);
const bar = svg.append("g");
bar.selectAll("rect").data(levelColors).join("rect")
  .attr("x", (d, i) => barScale(i))
  .attr("y", 655).attr("height", 19)
  .attr("width", (d, i) => barScale(i + 1) - barScale(i))
  .attr("fill", d => d).attr("stroke", "#000").attr("stroke-width", 1.2);
const barAxis = bar.append("g").attr("class", "axis")
  .attr("transform", "translate(0,674)")
  .call(d3.axisBottom(barScale).tickValues(d3.range(1, levels.length + 1)).tickSize(0).tickPadding(6)
    .tickFormat(i => levelLabels[i - 1]));
barAxis.select(".domain").remove();
barAxis.selectAll("text").style("font-size", "16.5px");
</script>
</body>
</html>
